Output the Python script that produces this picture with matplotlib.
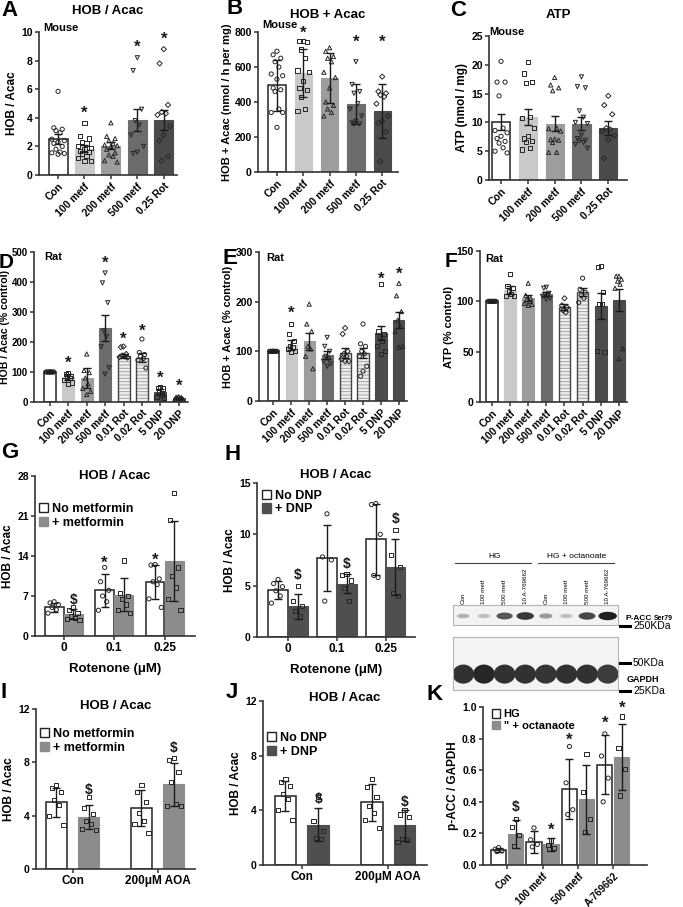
import numpy as np
import matplotlib
matplotlib.use('Agg')
import matplotlib.pyplot as plt
from matplotlib.patches import Patch, Ellipse
from matplotlib.lines import Line2D

plt.rcParams['font.family'] = ['Liberation Sans', 'DejaVu Sans']
plt.rcParams['font.weight'] = 'bold'
plt.rcParams['axes.labelweight'] = 'bold'
plt.rcParams['hatch.linewidth'] = 0.6

W, H = 683, 907
fig = plt.figure(figsize=(W / 100, H / 100), dpi=100)

# ------------------------------------------------------------------ DATA
mouse_groups = ['Con', '100 metf', '200 metf', '500 metf', '0.25 Rot']
rat_groups = ['Con', '100 metf', '200 metf', '500 metf', '0.01 Rot', '0.02 Rot', '5 DNP', '20 DNP']

# A  HOB / Acac (mouse)
a_mean = [2.5, 1.85, 2.05, 3.85, 3.85]
a_err = [0.35, 0.25, 0.25, 0.8, 0.72]
a_pts = [[5.85, 3.3, 3.2, 3.1, 2.95, 2.5, 2.4, 2.3, 2.2, 2.0, 1.8, 1.6, 1.55, 1.5, 1.45],
         [3.65, 2.7, 2.55, 2.3, 2.2, 2.0, 1.9, 1.8, 1.7, 1.6, 1.5, 1.3, 1.2, 1.0, 0.95],
         [3.65, 2.7, 2.55, 2.4, 2.2, 2.1, 2.05, 2.0, 1.8, 1.55, 1.4, 1.3, 1.0, 0.9],
         [8.2, 7.3, 4.6, 3.8, 3.5, 2.8, 2.0, 1.6, 1.5],
         [8.8, 7.8, 4.9, 4.4, 4.3, 4.2, 3.4, 2.8, 2.4, 1.3, 1.0]]
a_sig = [None, 4.3, None, 8.9, 9.5]

# B  HOB + Acac (mouse)
b_mean = [495, 565, 535, 390, 350]
b_err = [145, 135, 143, 115, 155]
b_pts = [[690, 670, 650, 630, 600, 560, 550, 530, 480, 470, 460, 360, 340, 340, 255],
         [750, 750, 745, 700, 650, 580, 570, 520, 480, 470, 430, 360, 350],
         [710, 690, 660, 650, 630, 570, 540, 480, 400, 380, 360, 340, 320],
         [630, 500, 460, 450, 390, 360, 320, 290, 280, 275, 275],
         [545, 460, 450, 440, 430, 390, 320, 290, 280, 230, 60]]
b_sig = [None, 795, None, 740, 740]

# C  ATP (mouse)
c_mean = [10.0, 11.0, 9.8, 9.8, 9.0]
c_err = [1.4, 1.4, 1.3, 1.1, 1.2]
c_pts = [[20.6, 17.0, 17.0, 14.6, 9.0, 8.6, 8.2, 7.6, 7.2, 6.7, 6.4, 5.6, 5.0, 4.7],
         [20.5, 18.5, 17.0, 16.8, 11.0, 10.8, 9.0, 7.6, 7.2, 6.8, 6.6, 5.5, 5.3],
         [17.8, 16.5, 16.0, 15.5, 9.0, 8.9, 8.5, 7.1, 7.0, 6.9, 6.5, 4.8, 4.8],
         [17.9, 16.2, 16.0, 12.0, 10.9, 10.0, 9.8, 7.8, 7.2, 6.9, 6.8, 6.5, 6.2, 5.5],
         [14.6, 13.0, 11.4, 9.0, 8.8, 8.4, 7.7, 7.0, 3.8]]

# D  HOB / Acac % control (rat)
d_mean = [100, 83, 80, 248, 153, 148, 34, 13]
d_err = [1, 9, 32, 43, 7, 14, 8, 3]
d_pts = [[100] * 8,
         [98, 92, 88, 85, 80, 72, 65, 60],
         [160, 105, 98, 80, 60, 45, 35, 25],
         [430, 397, 331, 237, 218, 184, 114, 93],
         [185, 183, 160, 155, 152, 150, 148],
         [210, 165, 158, 152, 145, 140, 113],
         [50, 48, 45, 35, 25, 18, 15],
         [18, 16, 15, 14, 12, 10, 8]]
d_sig = [None, 128, None, 463, 210, 235, 80, 51]

# E  HOB + Acac % control (rat)
e_mean = [100, 112, 120, 92, 96, 96, 137, 163]
e_err = [1, 10, 17, 8, 10, 10, 15, 17]
e_pts = [[100] * 8,
         [155, 135, 120, 110, 108, 105, 100, 98],
         [195, 155, 140, 110, 105, 90, 65],
         [128, 110, 100, 90, 85, 80, 75, 70],
         [147, 135, 100, 95, 90, 85, 80, 80],
         [155, 115, 110, 100, 95, 90, 70, 60, 50],
         [235, 140, 135, 130, 120, 110, 100, 95],
         [237, 212, 180, 163, 150, 140, 110, 108]]
e_sig = [None, 176, None, None, None, None, 245, 255]

# F  ATP % control (rat)
f_mean = [100, 111, 103, 107, 94, 109, 95, 101]
f_err = [0.5, 4, 3, 2, 3, 4, 13, 11]
f_pts = [[100] * 7,
         [127, 115, 113, 110, 107, 105, 105],
         [118, 106, 103, 102, 100, 98, 97, 96],
         [114, 113, 108, 107, 106, 105, 103, 102],
         [103, 96, 94, 91, 89],
         [123, 112, 109, 106, 103, 99],
         [135, 134, 109, 97, 97, 51, 50],
         [125, 125, 122, 120, 117, 113, 53, 43]]

# G  rotenone +/- metformin
rot_levels = ['0', '0.1', '0.25']
g_labels = ['No metformin', '+ metformin']
g_mean = [[5.0, 8.0, 9.5], [3.8, 7.2, 13.2]]
g_err = [[0.8, 2.9, 3.0], [0.9, 2.9, 7.0]]
g_pts = [[[6.0, 5.8, 5.5, 5.0, 4.6, 4.0], [12.0, 9.5, 8.0, 7.0, 6.0, 4.5], [12.5, 12.4, 10.0, 9.5, 9.0, 6.5, 5.0]],
         [[5.0, 4.5, 4.0, 3.5, 3.2, 3.0, 2.8], [13.2, 7.5, 7.0, 6.5, 5.5, 4.5, 4.0], [25.0, 20.3, 12.0, 10.5, 8.5, 6.5, 4.5]]]
g_marks = [[None, '*', '*'], ['$', None, None]]
g_marky = [[None, 12.8, 13.3], [6.3, None, None]]

# H  rotenone +/- DNP
h_labels = ['No DNP', '+ DNP']
h_mean = [[4.6, 7.7, 9.5], [3.0, 5.2, 6.8]]
h_err = [[0.9, 3.2, 3.5], [1.2, 0.9, 2.7]]
h_pts = [[[5.6, 5.2, 4.9, 4.5, 4.0, 3.3], [12.0, 7.8, 7.5, 3.5], [13.0, 12.9, 10.0, 6.0, 5.8]],
         [[5.0, 3.5, 3.0, 2.5, 2.0], [6.1, 6.0, 5.5, 4.8, 3.5], [10.4, 8.0, 6.8, 4.3, 4.0]]]
h_marks = [[None, None, None], ['$', '$', '$']]
h_marky = [[None, None, None], [6.0, 7.1, 11.5]]

# I  AOA +/- metformin
aoa_groups = ['Con', '200\u03bcM AOA']
i_mean = [[5.0, 4.6], [3.9, 6.35]]
i_err = [[1.1, 1.35], [0.9, 1.6]]
i_pts = [[[6.3, 6.1, 5.8, 5.2, 4.8, 4.0, 3.3], [6.3, 5.8, 5.0, 4.2, 3.6, 3.4, 2.7]],
         [[5.4, 4.6, 4.1, 3.6, 3.4, 3.0, 2.9], [8.3, 8.2, 7.3, 6.5, 4.9, 4.7, 4.7]]]
i_marks = [[None, None], ['$', '$']]
i_marky = [[None, None], [5.9, 9.1]]

# J  AOA +/- DNP
j_mean = [[5.05, 4.6], [2.95, 2.9]]
j_err = [[1.1, 1.35], [1.2, 1.15]]
j_pts = [[[6.3, 6.1, 5.8, 5.2, 4.8, 4.0, 3.3], [6.3, 5.7, 5.0, 4.3, 3.8, 3.3, 2.7]],
         [[5.0, 3.2, 2.5, 2.0, 1.9], [4.0, 3.7, 3.5, 1.9, 1.8, 1.7]]]
j_marks = [[None, None], ['$', '$']]
j_marky = [[None, None], [4.8, 4.6]]

# K  p-ACC / GAPDH
k_groups = ['Con', '100 metf', '500 metf', 'A-769662']
k_labels = ['HG', '" + octanaote']
k_mean = [[0.095, 0.145, 0.48, 0.635], [0.195, 0.13, 0.415, 0.685]]
k_err = [[0.015, 0.07, 0.19, 0.185], [0.09, 0.04, 0.22, 0.21]]
k_pts = [[[0.11, 0.10, 0.09, 0.085], [0.235, 0.16, 0.13, 0.115], [0.75, 0.52, 0.35, 0.32], [0.83, 0.69, 0.55, 0.40]],
         [[0.29, 0.24, 0.19, 0.12], [0.155, 0.125, 0.11, 0.10], [0.705, 0.46, 0.29, 0.21], [0.94, 0.74, 0.61, 0.44]]]
k_marks = [[None, None, '*', '*'], ['$', '*', None, '*']]
k_marky = [[None, None, 0.79, 0.9], [0.37, 0.22, None, 0.99]]

# Western blot
blot_lanes = ['Con', '100 metf', '500 metf', '10 A-769662'] * 2
blot_groups = ['HG', 'HG + octanoate']
pacc_band = [0.35, 0.3, 0.75, 0.88, 0.45, 0.3, 0.82, 1.0]
gapdh_band = [0.95, 1.0, 0.95, 0.95, 0.93, 0.95, 0.95, 0.9]

# ------------------------------------------------------------------ STYLE
C_WHITE = 'white'
C_L1 = '#c9c9c9'
C_L2 = '#9d9d9d'
C_L3 = '#6c6c6c'
C_L4 = '#4b4b4b'
C_HATCH = '#ededed'
C_GRAY = '#8c8c8c'
C_DARK = '#4f4f4f'
EDGE = '#222222'
AX = '#333333'


def rect(x0, y0, x1, y1):
    return [x0 / W, 1 - y1 / H, (x1 - x0) / W, (y1 - y0) / H]


def fpt(x, y):
    return x / W, 1 - y / H


def spread(n):
    return np.resize(np.array([0.0, -0.22, 0.22, -0.11, 0.11, -0.33, 0.33]), n)


def style(ax, ylim, yticks, ylabel, ylabsize=8.5, labelpad=2):
    ax.set_ylim(*ylim)
    ax.set_yticks(yticks)
    for s in ['top', 'right']:
        ax.spines[s].set_visible(False)
    for s in ['left', 'bottom']:
        ax.spines[s].set_linewidth(1.2)
        ax.spines[s].set_color(AX)
    ax.tick_params(width=1.1, length=3, labelsize=7.5, color=AX, pad=1.5)
    ax.set_ylabel(ylabel, fontsize=ylabsize, labelpad=labelpad)


def one_bar(ax, x, m, e, pts, face, marker, width, hatch=False, ms=9):
    if hatch:
        ax.bar(x, m, width, color=C_HATCH, edgecolor='#9a9a9a', hatch='-----', linewidth=0, zorder=1)
        ax.bar(x, m, width, fill=False, edgecolor='#444444', linewidth=1.0, zorder=2)
    elif face == 'white':
        ax.bar(x, m, width, color='white', edgecolor=EDGE, linewidth=1.1, zorder=1)
    else:
        ax.bar(x, m, width, color=face, edgecolor=face, linewidth=0.8, zorder=1)
    ax.errorbar(x, m, yerr=e, fmt='none', ecolor='#1a1a1a', elinewidth=1.0,
                capsize=3, capthick=1.0, zorder=4)
    p = np.sort(np.asarray(pts, float))[::-1]
    offs = spread(len(p)) * width
    ax.scatter(x + offs, p, marker=marker, s=ms, facecolors='none',
               edgecolors='#262626', linewidths=0.7, zorder=3)


def mark(ax, x, y, s):
    if s is None:
        return
    ax.text(x, float(y), s, ha='center', va='center',
            fontsize=12 if s == '*' else 10, fontweight='bold', color='#1a1a1a', zorder=5)


def letter(s, x, y, size=16):
    fig.text(*fpt(x, y), s, fontsize=size, fontweight='bold', ha='left', va='center')


def simple_panel(pos, groups, means, errs, pts, faces, markers, hatches, xlim,
                 ylim, yticks, ylabel, width, sig=None, title=None, title_dy=0.15,
                 tag=None, tagxy=(0.03, 1.03), ylabsize=8.5, labelpad=2, yticksize=7.5):
    ax = fig.add_axes(rect(*pos))
    x = np.arange(len(groups))
    for i in range(len(groups)):
        one_bar(ax, x[i], means[i], errs[i], pts[i], faces[i], markers[i], width,
                hatch=hatches[i], ms=7 if markers[i] == 'D' else 9)
        if sig is not None and sig[i] is not None:
            mark(ax, x[i], sig[i], '*')
    ax.set_xlim(*xlim)
    ax.set_xticks(x, groups, rotation=45, ha='right', rotation_mode='anchor')
    style(ax, ylim, yticks, ylabel, ylabsize, labelpad)
    ax.tick_params(axis='y', labelsize=yticksize)
    if title:
        ax.text(0.5, 1 + title_dy, title, transform=ax.transAxes, ha='center',
                va='center', fontsize=9.5, fontweight='bold')
    if tag:
        ax.text(tagxy[0], tagxy[1], tag, transform=ax.transAxes, ha='left',
                va='center', fontsize=8, fontweight='bold')
    return ax


def grouped_panel(pos, groups, series_labels, means, errs, pts, faces, markers,
                  marks, marky, xlim, ylim, yticks, ylabel, width, offset,
                  legxy, title=None, title_dy=0.0, rot=0, legsize=9):
    ax = fig.add_axes(rect(*pos))
    x = np.arange(len(groups))
    for s in range(2):
        for i in range(len(groups)):
            xi = x[i] + (2 * s - 1) * offset
            one_bar(ax, xi, means[s][i], errs[s][i], pts[s][i], faces[s], markers[s], width)
            mark(ax, xi, marky[s][i] if marky[s][i] is not None else 0, marks[s][i])
    ax.set_xlim(*xlim)
    if rot:
        ax.set_xticks(x, groups, rotation=rot, ha='right', rotation_mode='anchor')
    else:
        ax.set_xticks(x, groups)
    style(ax, ylim, yticks, ylabel)
    ax.tick_params(axis='x', labelsize=8.5)
    handles = [Patch(facecolor=c, edgecolor=EDGE if c == 'white' else c, linewidth=1.0) for c in faces]
    ax.legend(handles, series_labels, loc='upper left', bbox_to_anchor=legxy,
              frameon=False, prop={'size': legsize, 'weight': 'bold'},
              handlelength=0.75, handleheight=0.75, handletextpad=0.3,
              labelspacing=0.12, borderaxespad=0, borderpad=0)
    if title:
        ax.text(0.5, 1 + title_dy, title, transform=ax.transAxes, ha='center',
                va='center', fontsize=9.5, fontweight='bold')
    return ax


# ------------------------------------------------------------------ ROW 1
mouse_faces = [C_WHITE, C_L1, C_L2, C_L3, C_L4]
mouse_marks = ['o', 's', '^', 'v', 'D']
no_hatch5 = [False] * 5

simple_panel((39, 32, 177, 175), mouse_groups, a_mean, a_err, a_pts, mouse_faces,
             mouse_marks, no_hatch5, (-0.72, 4.5), (0, 10), [0, 2, 4, 6, 8, 10],
             'HOB / Acac', 0.72, sig=a_sig, title='HOB / Acac', title_dy=21 / 143,
             tag='Mouse', tagxy=(0.03, 1.03))
simple_panel((258, 32, 398, 172), mouse_groups, b_mean, b_err, b_pts, mouse_faces,
             mouse_marks, no_hatch5, (-0.72, 4.6), (0, 800), [0, 200, 400, 600, 800],
             'HOB + Acac (nmol / h per mg)', 0.66, sig=b_sig, title='HOB + Acac',
             title_dy=17 / 140, tag='Mouse', tagxy=(0.03, 1.05), ylabsize=8.0)
simple_panel((489, 36, 627, 180), mouse_groups, c_mean, c_err, c_pts, mouse_faces,
             mouse_marks, no_hatch5, (-0.45, 4.7), (0, 25), [0, 5, 10, 15, 20, 25],
             'ATP (nmol / mg)', 0.68, title='ATP', title_dy=21 / 144,
             tag='Mouse', tagxy=(0.0, 1.03))

# ------------------------------------------------------------------ ROW 2
rat_faces = [C_WHITE, C_L1, C_L2, C_L3, C_HATCH, C_HATCH, C_L4, C_L4]
rat_marks = ['o', 's', '^', 'v', 'D', 'o', 's', '^']
rat_hatch = [False, False, False, False, True, True, False, False]

simple_panel((34, 252, 188, 402), rat_groups, d_mean, d_err, d_pts, rat_faces,
             rat_marks, rat_hatch, (-0.86, 7.5), (0, 500), [0, 100, 200, 300, 400, 500],
             'HOB / Acac (% control)', 0.65, sig=d_sig, tag='Rat', tagxy=(0.065, 0.967),
             ylabsize=7.6, labelpad=1, yticksize=7.0)
simple_panel((259, 252, 407, 401), rat_groups, e_mean, e_err, e_pts, rat_faces,
             rat_marks, rat_hatch, (-0.8, 7.45), (0, 300), [0, 100, 200, 300],
             'HOB + Acac (% control)', 0.62, sig=e_sig, tag='Rat', tagxy=(0.05, 0.96),
             ylabsize=7.8)
simple_panel((480, 251, 627, 402), rat_groups, f_mean, f_err, f_pts, rat_faces,
             rat_marks, rat_hatch, (-0.66, 7.45), (0, 150), [0, 50, 100, 150],
             'ATP (% control)', 0.64, tag='Rat', tagxy=(0.035, 0.95), ylabsize=8.0)

# ------------------------------------------------------------------ ROW 3
axg = grouped_panel((35, 476, 195, 636), rot_levels, g_labels, g_mean, g_err, g_pts,
                    [C_WHITE, C_GRAY], ['o', 's'], g_marks, g_marky, (-0.57, 2.6),
                    (0, 28), [0, 7, 14, 21, 28], 'HOB / Acac', 0.37, 0.19,
                    (0.025, 0.83), title='HOB / Acac', title_dy=0.0)
axg.set_xlabel('Rotenone (\u03bcM)', fontsize=9.5, labelpad=6)
axh = grouped_panel((257, 483, 415, 637), rot_levels, h_labels, h_mean, h_err, h_pts,
                    [C_WHITE, C_DARK], ['o', 's'], h_marks, h_marky, (-0.63, 2.6),
                    (0, 15), [0, 5, 10, 15], 'HOB / Acac', 0.41, 0.2,
                    (0.03, 0.955), title='HOB / Acac', title_dy=8 / 154)
axh.set_xlabel('Rotenone (\u03bcM)', fontsize=9.5, labelpad=6)

# Western blot
ax_b1 = fig.add_axes(rect(453, 605, 618, 625))
ax_b2 = fig.add_axes(rect(453, 637, 618, 690))
for axb in (ax_b1, ax_b2):
    axb.set_xlim(0, len(blot_lanes))
    axb.set_ylim(0, 1)
    axb.set_xticks([])
    axb.set_yticks([])
    axb.set_facecolor('#f3f3f3')
    for s in axb.spines.values():
        s.set_color('#b5b5b5')
        s.set_linewidth(0.8)
for i, v in enumerate(pacc_band):
    g = 1 - 0.88 * v
    ax_b1.add_patch(Ellipse((i + 0.5, 0.45), 0.45 + 0.45 * v, 0.12 + 0.3 * v,
                            color=(g, g, g), lw=0))
for i, v in enumerate(gapdh_band):
    g = 1 - 0.85 * v
    ax_b2.add_patch(Ellipse((i + 0.5, 0.3), 1.05, 0.36, color=(g, g, g), lw=0))
lane_x = [453 + (i + 0.5) * 165 / 8 for i in range(8)]
for xl, lab in zip(lane_x, blot_lanes):
    fig.text(*fpt(xl, 604), lab, rotation=90, ha='center', va='bottom',
             fontsize=4.5, fontweight='normal')
for gi, glab in enumerate(blot_groups):
    xs = lane_x[gi * 4:(gi + 1) * 4]
    fig.text(*fpt((xs[0] + xs[-1]) / 2, 557), glab, ha='center', va='center',
             fontsize=6, fontweight='normal')
    fig.add_artist(Line2D([(xs[0] - 8) / W, (xs[-1] + 6) / W], [1 - 563 / H] * 2,
                          color='#444444', lw=0.8))
fig.text(*fpt(626, 618), 'P-ACC', fontsize=6, fontweight='bold', va='center')
fig.text(*fpt(654, 618), 'Ser79', fontsize=5, fontweight='bold', va='center')
fig.text(*fpt(627, 680), 'GAPDH', fontsize=6.5, fontweight='bold', va='center')
for yy, lab in [(626, '250KDa'), (663, '50KDa'), (691, '25KDa')]:
    fig.add_artist(Line2D([620 / W, 630 / W], [1 - yy / H] * 2, color='black', lw=2.2))
    fig.text(*fpt(633, yy), lab, fontsize=7.5, fontweight='normal', va='center')

# ------------------------------------------------------------------ ROW 4
grouped_panel((36, 709, 195, 869), aoa_groups, g_labels, i_mean, i_err, i_pts,
              [C_WHITE, C_GRAY], ['s', 's'], i_marks, i_marky, (-0.43, 1.44),
              (0, 12), [0, 4, 8, 12], 'HOB / Acac', 0.25, 0.19,
              (0.025, 0.88), title='HOB / Acac', title_dy=3 / 160)
grouped_panel((263, 701, 427, 865), aoa_groups, h_labels, j_mean, j_err, j_pts,
              [C_WHITE, C_DARK], ['s', 's'], j_marks, j_marky, (-0.45, 1.45),
              (0, 12), [0, 4, 8, 12], 'HOB / Acac', 0.25, 0.19,
              (0.025, 0.81), title='HOB / Acac', title_dy=3 / 164)
axk = grouped_panel((483, 707, 647, 865), k_groups, k_labels, k_mean, k_err, k_pts,
                    [C_WHITE, C_GRAY], ['o', 's'], k_marks, k_marky, (-0.68, 3.95),
                    (0, 1.0), [0.0, 0.2, 0.4, 0.6, 0.8, 1.0], 'p-ACC / GAPDH', 0.43, 0.24,
                    (0.055, 0.985), rot=45, legsize=8)
axk.set_yticklabels(['0.0', '0.2', '0.4', '0.6', '0.8', '1.0'])
axk.tick_params(axis='x', labelsize=7)

# ------------------------------------------------------------------ LETTERS
letter('A', 1, 10)
letter('B', 226, 9)
letter('C', 450, 10)
letter('D', -1, 263, 15)
letter('E', 222, 258)
letter('F', 445, 262, 15)
letter('G', 1, 453)
letter('H', 224, 454)
letter('I', 1, 692)
letter('J', 226, 692)
letter('K', 427, 695)

fig.savefig('out.png', dpi=100)
